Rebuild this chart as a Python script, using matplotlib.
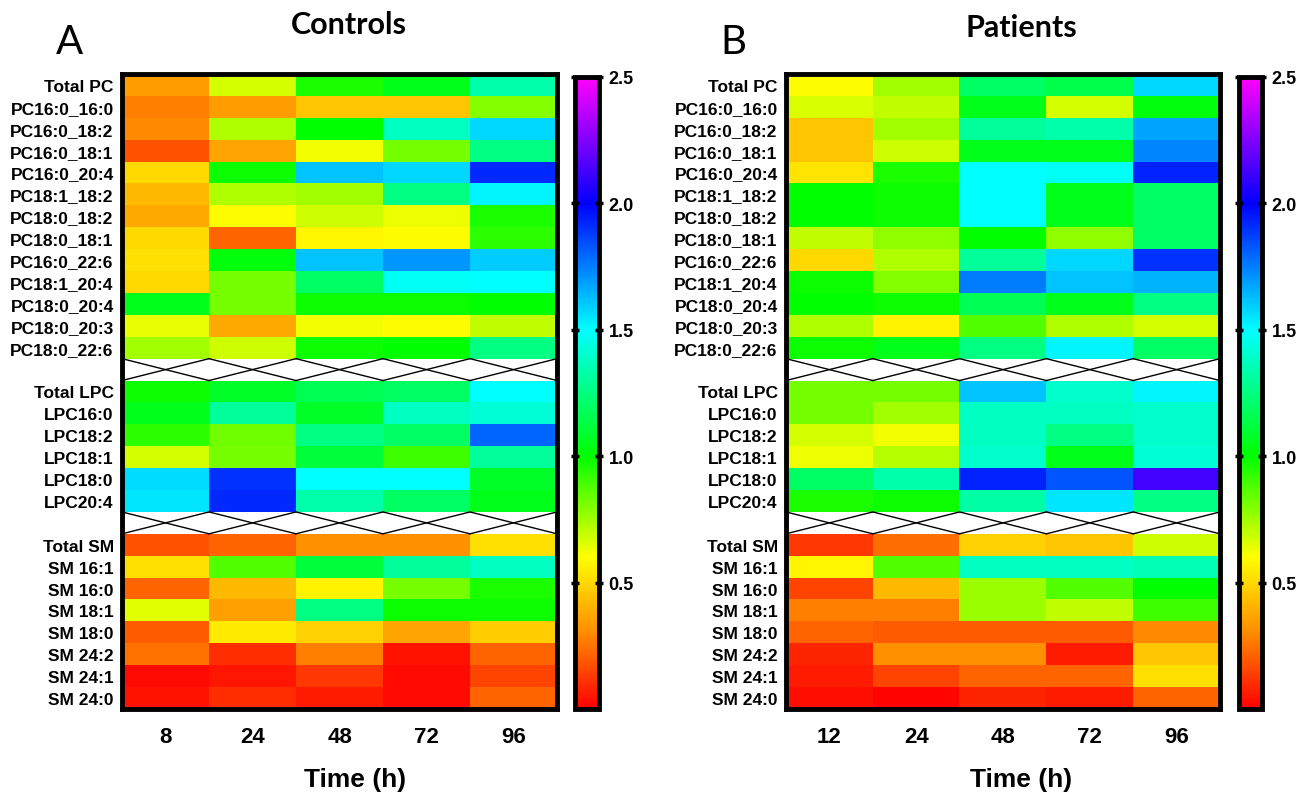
import numpy as np
import matplotlib
matplotlib.use("Agg")
import matplotlib.pyplot as plt
from matplotlib.colors import LinearSegmentedColormap

pc_labels = ['Total PC', 'PC16:0_16:0', 'PC16:0_18:2', 'PC16:0_18:1', 'PC16:0_20:4',
             'PC18:1_18:2', 'PC18:0_18:2', 'PC18:0_18:1', 'PC16:0_22:6', 'PC18:1_20:4',
             'PC18:0_20:4', 'PC18:0_20:3', 'PC18:0_22:6']
lpc_labels = ['Total LPC', 'LPC16:0', 'LPC18:2', 'LPC18:1', 'LPC18:0', 'LPC20:4']
sm_labels = ['Total SM', 'SM 16:1', 'SM 16:0', 'SM 18:1', 'SM 18:0', 'SM 24:2', 'SM 24:1', 'SM 24:0']

ctrl_times = ['8', '24', '48', '72', '96']
pat_times = ['12', '24', '48', '72', '96']

# fold change values
ctrl_pc = [
    [0.35, 0.67, 0.96, 1.05, 1.33],
    [0.28, 0.35, 0.45, 0.45, 0.80],
    [0.30, 0.73, 1.00, 1.38, 1.58],
    [0.18, 0.37, 0.62, 0.82, 1.25],
    [0.50, 0.98, 1.62, 1.58, 1.92],
    [0.42, 0.73, 0.75, 1.25, 1.52],
    [0.38, 0.60, 0.68, 0.63, 0.96],
    [0.50, 0.22, 0.58, 0.60, 0.93],
    [0.52, 1.02, 1.62, 1.70, 1.60],
    [0.50, 0.82, 1.20, 1.48, 1.50],
    [1.05, 0.82, 0.98, 0.98, 1.00],
    [0.64, 0.38, 0.62, 0.60, 0.70],
    [0.75, 0.68, 0.98, 1.00, 1.25],
]
ctrl_lpc = [
    [0.98, 1.08, 1.17, 1.20, 1.50],
    [1.05, 1.30, 1.08, 1.38, 1.42],
    [0.93, 0.83, 1.25, 1.20, 1.80],
    [0.67, 0.82, 1.12, 0.90, 1.30],
    [1.57, 1.90, 1.50, 1.50, 1.08],
    [1.55, 1.92, 1.33, 1.20, 1.05],
]
ctrl_sm = [
    [0.18, 0.22, 0.32, 0.32, 0.52],
    [0.52, 0.87, 1.12, 1.30, 1.38],
    [0.22, 0.42, 0.57, 0.82, 0.96],
    [0.65, 0.36, 1.25, 0.98, 0.98],
    [0.20, 0.55, 0.48, 0.37, 0.47],
    [0.25, 0.10, 0.28, 0.04, 0.22],
    [0.02, 0.05, 0.12, 0.02, 0.15],
    [0.04, 0.10, 0.06, 0.02, 0.22],
]

pat_pc = [
    [0.60, 0.75, 1.20, 1.15, 1.58],
    [0.66, 0.70, 1.05, 0.67, 1.02],
    [0.45, 0.75, 1.30, 1.33, 1.67],
    [0.45, 0.68, 1.05, 1.05, 1.73],
    [0.53, 0.96, 1.50, 1.48, 1.93],
    [1.00, 0.98, 1.50, 1.05, 1.20],
    [1.00, 0.98, 1.50, 1.05, 1.20],
    [0.70, 0.78, 1.00, 0.78, 1.20],
    [0.50, 0.73, 1.30, 1.58, 1.90],
    [0.98, 0.80, 1.75, 1.62, 1.65],
    [1.00, 0.98, 1.17, 1.05, 1.25],
    [0.73, 0.57, 0.87, 0.73, 0.67],
    [0.98, 1.05, 1.25, 1.52, 1.20],
]
pat_lpc = [
    [0.82, 0.82, 1.62, 1.40, 1.52],
    [0.82, 0.75, 1.38, 1.38, 1.40],
    [0.67, 0.62, 1.38, 1.25, 1.40],
    [0.63, 0.72, 1.40, 1.05, 1.42],
    [1.20, 1.33, 1.93, 1.83, 2.12],
    [0.96, 0.98, 1.32, 1.55, 1.25],
]
pat_sm = [
    [0.12, 0.24, 0.48, 0.45, 0.68],
    [0.58, 0.87, 1.38, 1.38, 1.35],
    [0.15, 0.42, 0.76, 0.87, 1.00],
    [0.28, 0.28, 0.76, 0.70, 0.90],
    [0.22, 0.20, 0.20, 0.20, 0.30],
    [0.08, 0.32, 0.32, 0.06, 0.45],
    [0.06, 0.15, 0.22, 0.22, 0.52],
    [0.03, 0.01, 0.08, 0.06, 0.22],
]

vmax = 2.5
cmap = LinearSegmentedColormap.from_list('fc', [
    (0.0, (1.0, 0.0, 0.0)),
    (0.3 / vmax, (1.0, 0.55, 0.0)),
    (0.6 / vmax, (1.0, 1.0, 0.0)),
    (1.0 / vmax, (0.0, 1.0, 0.0)),
    (1.5 / vmax, (0.0, 1.0, 1.0)),
    (2.0 / vmax, (0.0, 0.0, 1.0)),
    (1.0, (1.0, 0.0, 1.0)),
])
cmap.set_bad('white')

label_font = ['Liberation Sans Narrow', 'Liberation Sans', 'DejaVu Sans']
W, H = 1309, 803
fig = plt.figure(figsize=(W / 100, H / 100), dpi=100)


def px(x0, y0, x1, y1):
    return [x0 / W, 1 - y1 / H, (x1 - x0) / W, (y1 - y0) / H]


def draw_panel(rect, crect, pc, lpc, sm, times):
    ax = fig.add_axes(rect)
    gap = np.full((1, 5), np.nan)
    data = np.vstack([pc, gap, lpc, gap, sm])
    labels = pc_labels + [''] + lpc_labels + [''] + sm_labels
    im = ax.imshow(data, cmap=cmap, vmin=0, vmax=vmax, aspect='auto',
                   interpolation='nearest')
    # crossed lines in the separator rows
    for r in [len(pc), len(pc) + 1 + len(lpc)]:
        for j in range(5):
            ax.plot([j - 0.5, j + 0.5], [r - 0.5, r + 0.5], color='black', lw=1)
            ax.plot([j - 0.5, j + 0.5], [r + 0.5, r - 0.5], color='black', lw=1)
    ax.set_xlim(-0.5, 4.5)
    ax.set_ylim(len(labels) - 0.5, -0.5)
    ax.set_yticks(range(len(labels)))
    ax.set_yticklabels(labels, fontsize=12.5, fontweight='bold', family=label_font)
    ax.set_xticks(range(5))
    ax.set_xticklabels(times, fontsize=16, fontweight='bold', family=['Liberation Sans'])
    ax.tick_params(length=0, pad=6)
    ax.tick_params(axis='x', pad=12)
    for s in ax.spines.values():
        s.set_linewidth(3.5)

    cax = fig.add_axes(crect)
    cb = fig.colorbar(im, cax=cax, ticks=[0.5, 1.0, 1.5, 2.0, 2.5])
    cb.outline.set_linewidth(3.5)
    cax.set_yticklabels(['0.5', '1.0', '1.5', '2.0', '2.5'], fontsize=13,
                        fontweight='bold', family=['Liberation Sans'])
    cax.tick_params(direction='inout', length=6, width=2.5, left=True, pad=4)
    return ax


draw_panel(px(122, 75, 557, 710), px(575, 78, 599, 710), ctrl_pc, ctrl_lpc, ctrl_sm, ctrl_times)
draw_panel(px(786, 75, 1220, 710), px(1239, 78, 1262, 710), pat_pc, pat_lpc, pat_sm, pat_times)

title_font = ['Lato', 'DejaVu Sans']
fig.text(349 / W, 1 - 25 / H, 'Controls', ha='center', va='center', fontsize=22,
         fontweight='bold', family=title_font)
fig.text(1021 / W, 1 - 28 / H, 'Patients', ha='center', va='center', fontsize=22,
         fontweight='bold', family=title_font)
fig.text(70 / W, 1 - 42 / H, 'A', ha='center', va='center', fontsize=29, family=title_font)
fig.text(733 / W, 1 - 42 / H, 'B', ha='center', va='center', fontsize=29, family=title_font)
fig.text(355 / W, 1 - 780 / H, 'Time (h)', ha='center', va='center', fontsize=19,
         fontweight='bold', family=['Liberation Sans'])
fig.text(1021 / W, 1 - 780 / H, 'Time (h)', ha='center', va='center', fontsize=19,
         fontweight='bold', family=['Liberation Sans'])

fig.savefig('out.png', dpi=100)
